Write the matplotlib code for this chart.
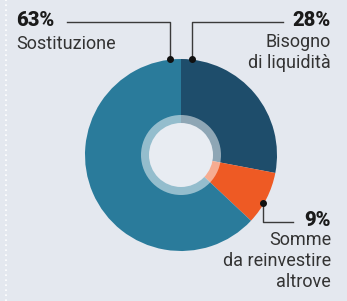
import matplotlib
matplotlib.use("Agg")
import matplotlib.pyplot as plt
from matplotlib.patches import Circle

# Data
categories = ["Bisogno\ndi liquidità", "Somme\nda reinvestire\naltrove", "Sostituzione"]
values = [28, 9, 63]
pct_labels = ["28%", "9%", "63%"]
colors = ["#1e4d6b", "#ee5a24", "#2a7b9b"]

W, H = 347, 301
BG = "#e4e8ef"
fig = plt.figure(figsize=(W / 100, H / 100), dpi=100, facecolor=BG)
ax = fig.add_axes([0, 0, 1, 1])
ax.set_xlim(0, W)
ax.set_ylim(0, H)
ax.set_aspect("equal")
ax.axis("off")
ax.set_facecolor(BG)

def Y(y):
    return H - y

cx, cy, R = 181, 155, 96
ax.pie(values, colors=colors, startangle=90, counterclock=False,
       center=(cx, Y(cy)), radius=R, wedgeprops=dict(linewidth=0))
ax.set_xlim(0, W)
ax.set_ylim(0, H)
ax.add_patch(Circle((cx, Y(cy)), 40, facecolor="white", alpha=0.5, lw=0, zorder=5))
ax.add_patch(Circle((cx, Y(cy)), 32, facecolor="#e8ecf2", lw=0, zorder=6))

# left dotted border
ax.plot([6, 6], [0, H], color="white", lw=1.2, ls=(0, (1, 2)), zorder=1)

font = ["Roboto", "DejaVu Sans"]
lc = "#3a3a3a"

# 63% leader
ax.plot([67, 170, 170], [Y(22), Y(22), Y(59)], color=lc, lw=1, zorder=7)
ax.plot([170], [Y(59)], "o", color="#111", ms=4, zorder=8)
# 28% leader
ax.plot([283, 192, 192], [Y(22), Y(22), Y(59)], color=lc, lw=1, zorder=7)
ax.plot([192], [Y(59)], "o", color="#111", ms=4, zorder=8)
# 9% leader
ax.plot([263, 263, 293], [Y(203), Y(222), Y(222)], color=lc, lw=1, zorder=7)
ax.plot([263], [Y(203)], "o", color="#111", ms=4, zorder=8)

pfs = 14.5
lfs = 13
ax.text(16, Y(21), pct_labels[2], ha="left", va="center", fontsize=pfs,
        fontweight="heavy", color="#1a1a1a", family=font)
ax.text(16, Y(44), categories[2], ha="left", va="center", fontsize=lfs,
        color="#333333", family=font)

ax.text(331, Y(20), pct_labels[0], ha="right", va="center", fontsize=pfs,
        fontweight="heavy", color="#1a1a1a", family=font)
ax.text(331, Y(42), categories[0].split("\n")[0], ha="right", va="center",
        fontsize=lfs, color="#333333", family=font)
ax.text(331, Y(63), categories[0].split("\n")[1], ha="right", va="center",
        fontsize=lfs, color="#333333", family=font)

ax.text(331, Y(220), pct_labels[1], ha="right", va="center", fontsize=pfs,
        fontweight="heavy", color="#1a1a1a", family=font)
for i, line in enumerate(categories[1].split("\n")):
    ax.text(331, Y(240 + 21 * i), line, ha="right", va="center",
            fontsize=lfs, color="#333333", family=font)

fig.savefig("out.png", dpi=100, facecolor=BG)
